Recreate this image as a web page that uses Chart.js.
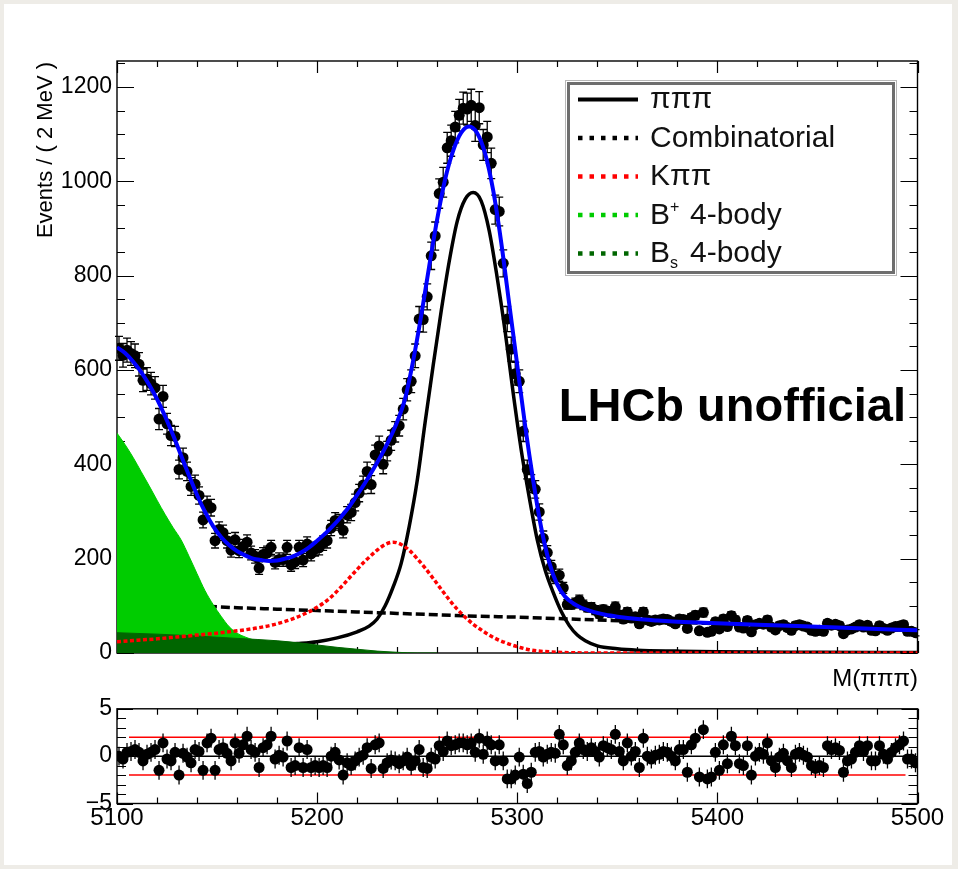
<!DOCTYPE html>
<html>
<head>
<meta charset="utf-8">
<script src="https://cdn.jsdelivr.net/npm/chart.js@4.4.1/dist/chart.umd.min.js"></script>
<style>
  body { margin: 0; width: 958px; height: 869px; overflow: hidden; background: #eeece7; }
  #paper { position: absolute; left: 4px; top: 4px; width: 948px; height: 861px; background: #fff; }
  canvas { position: absolute; left: 0; }
  #main { top: 0; }
  #pull { top: 690px; }
</style>
</head>
<body>
<div id="paper"></div>
<canvas id="main" width="958" height="700"></canvas>
<canvas id="pull" width="958" height="179"></canvas>
<script>
// 2 MeV bins, M(πππ) from 5100 to 5500
const binCentres = [
  5101,5103,5105,5107,5109,5111,5113,5115,5117,5119,
  5121,5123,5125,5127,5129,5131,5133,5135,5137,5139,
  5141,5143,5145,5147,5149,5151,5153,5155,5157,5159,
  5161,5163,5165,5167,5169,5171,5173,5175,5177,5179,
  5181,5183,5185,5187,5189,5191,5193,5195,5197,5199,
  5201,5203,5205,5207,5209,5211,5213,5215,5217,5219,
  5221,5223,5225,5227,5229,5231,5233,5235,5237,5239,
  5241,5243,5245,5247,5249,5251,5253,5255,5257,5259,
  5261,5263,5265,5267,5269,5271,5273,5275,5277,5279,
  5281,5283,5285,5287,5289,5291,5293,5295,5297,5299,
  5301,5303,5305,5307,5309,5311,5313,5315,5317,5319,
  5321,5323,5325,5327,5329,5331,5333,5335,5337,5339,
  5341,5343,5345,5347,5349,5351,5353,5355,5357,5359,
  5361,5363,5365,5367,5369,5371,5373,5375,5377,5379,
  5381,5383,5385,5387,5389,5391,5393,5395,5397,5399,
  5401,5403,5405,5407,5409,5411,5413,5415,5417,5419,
  5421,5423,5425,5427,5429,5431,5433,5435,5437,5439,
  5441,5443,5445,5447,5449,5451,5453,5455,5457,5459,
  5461,5463,5465,5467,5469,5471,5473,5475,5477,5479,
  5481,5483,5485,5487,5489,5491,5493,5495,5497,5499
];

const eventCounts = [
  646,631,642,635,630,612,578,581,571,562,
  496,544,486,461,459,389,414,385,353,358,
  334,282,315,308,238,262,255,238,218,240,
  217,226,235,212,205,180,209,212,224,192,
  198,198,224,187,193,224,197,231,210,220,
  223,233,238,265,281,277,260,293,298,319,
  339,356,385,357,420,439,400,428,451,469,
  482,517,558,576,630,708,707,755,842,884,
  974,998,1071,1086,1115,1140,1155,1153,1161,1118,
  1156,1077,1094,1038,940,936,826,708,644,592,
  576,470,389,359,347,299,243,213,183,160,
  165,138,103,103,106,112,102,97,97,91,
  83,92,89,85,98,81,72,87,74,77,
  62,87,70,67,70,70,72,71,67,62,
  72,71,52,75,80,47,86,44,46,66,
  51,72,56,79,70,55,53,69,45,60,
  63,61,70,55,49,58,60,54,48,58,
  60,57,55,48,46,48,46,63,59,61,
  58,41,49,51,55,60,55,59,48,47,
  58,52,48,53,56,57,60,46,46,43
];

const pullValues = [
  0.0,-0.3,0.4,0.5,0.7,0.4,-0.5,0.2,0.4,0.7,
  -1.5,1.4,-0.3,-0.5,0.4,-2.0,0.3,-0.1,-0.7,0.7,
  0.5,-1.5,1.4,1.9,-1.5,0.7,0.9,0.3,-0.5,1.4,
  0.3,1.2,2.1,0.7,0.4,-1.2,0.9,1.2,2.1,-0.3,
  0.1,-0.1,1.6,-1.2,-1.0,0.9,-1.2,0.7,-1.2,-1.0,
  -1.2,-1.0,-1.2,0.0,0.4,-0.4,-2.0,-0.7,-1.0,-0.5,
  -0.1,0.1,0.9,-1.3,1.2,1.4,-1.3,-0.7,-0.4,-0.5,
  -0.8,-0.5,-0.1,-1.0,-0.5,0.7,-1.2,-1.3,-0.1,-0.3,
  1.1,0.5,1.6,1.1,1.2,1.4,1.4,1.2,1.4,0.4,
  1.9,0.2,1.6,1.2,-0.5,1.2,-0.5,-2.4,-2.4,-2.0,
  -0.1,-1.9,-2.9,-1.7,0.4,0.5,-0.1,0.2,0.4,0.3,
  2.3,1.2,-1.0,-0.5,0.4,1.4,0.7,0.5,0.9,0.5,
  -0.1,1.1,0.9,0.7,2.3,0.5,-0.5,1.4,0.0,0.5,
  -1.2,1.9,0.0,-0.3,0.1,0.2,0.5,0.4,0.0,-0.5,
  0.7,0.7,-1.7,1.2,1.9,-2.2,2.8,-2.4,-2.2,0.4,
  -1.5,1.2,-0.8,2.1,1.1,-0.8,-1.0,1.1,-2.0,0.0,
  0.4,0.2,1.4,-0.5,-1.2,-0.1,0.3,-0.5,-1.2,0.2,
  0.4,0.1,-0.1,-1.0,-1.3,-1.0,-1.2,1.1,0.7,0.9,
  0.6,-1.7,-0.5,-0.3,0.4,1.1,0.5,1.1,-0.5,-0.5,
  1.1,0.2,-0.3,0.4,0.9,1.2,1.6,-0.3,-0.3,-0.7
];

// fit curves, sampled along M
const fitMass = [5100,5104,5108,5112,5116,5120,5124,5128,5132,5136,5140,5144,5148,5152,5156,5160,5164,5168,5172,5176,
  5180,5184,5188,5192,5196,5200,5204,5208,5212,5216,5220,5224,5228,5232,5236,5240,5244,5248,5252,5256,
  5260,5264,5268,5272,5276,5280,5284,5288,5292,5296,5300,5304,5308,5312,5316,5320,5324,5328,5332,5336,
  5340,5344,5350,5360,5370,5380,5390,5400,5420,5440,5460,5480,5500];
const fitTotal = [648,636,618,596,569,538,502,462,419,376,335,299,269,246,229,216,207,200,197,195,
  196,200,205,213,224,238,253,270,289,310,335,361,389,419,452,490,540,620,715,820,
  920,1005,1065,1103,1116,1102,1058,980,870,740,610,480,365,265,192,145,119,105,96,90,
  85,81,77,72,69,66.5,64.5,63,60,57,54,51,48];

const signalMass = [5100,5120,5140,5160,5180,5190,5200,5210,5220,5226,5230,5234,5238,5242,5246,5250,5254,5258,5262,5266,
  5270,5274,5278,5282,5286,5290,5294,5298,5302,5306,5310,5314,5318,5322,5326,5330,5334,5340,5350,5360,
  5380,5400,5450,5500];
const signalCurve = [5,7,10,13,17,20,24,32,45,57,72,100,140,190,268,365,490,610,725,830,
  915,962,976,958,895,795,680,550,430,330,240,175,128,88,58,38,26,15,9,6,
  4,2.5,1.5,1];

const combMass = [5100,5120,5140,5160,5180,5200,5220,5240,5260,5280,5300,5320,5340,5360,5380,5400,5420,5440,5460,5480,5500];
const combCurve = [108,104,100,96,93,90,87,84,81,78,76,73,70,67,65,62,59,56,53,50,48];

const kpipiMass = [5100,5110,5120,5130,5140,5150,5160,5170,5180,5190,5200,5206,5212,5218,5224,5230,5234,5238,5242,5246,
  5250,5254,5258,5262,5266,5270,5274,5278,5282,5286,5290,5294,5298,5302,5306,5310,5320,5330,5340,5420,5500];
const kpipiCurve = [24,27,30,34,38,42,47,53,62,76,97,115,140,168,195,218,230,235,230,218,
  200,180,158,135,113,93,76,61,49,38,29,22,16,11,7,4.5,1.5,0.3,0,0,0];

const bplusMass = [5100,5104,5108,5112,5116,5120,5124,5128,5132,5136,5140,5144,5148,5152,5156,5160,5164,5168,5172,5176,5180,5190,5200,5210];
const bplusCurve = [466,442,415,385,355,324,294,266,240,205,168,132,103,78,56,42,34,28,24,20,16,8,3,0];

const bsMass = [5100,5120,5140,5160,5180,5190,5200,5210,5220,5230,5240,5250,5260];
const bsCurve = [43,40,36,31,26,22,17,12,8,4,1.5,0,0];

const legendLabels = ['πππ', 'Combinatorial', 'Kππ', 'B+ 4-body', 'Bs 4-body'];

Chart.defaults.font.family = '"Liberation Sans", Arial, sans-serif';
Chart.defaults.color = '#000';

const FONT = '"Liberation Sans", Arial, sans-serif';
const toPoints = (xs, ys) => xs.map((x, i) => ({ x, y: ys[i] }));
const plainNumber = v => (v < 0 ? '\u2212' + Math.abs(v) : String(v));

function curve(xs, ys, extra) {
  return Object.assign({
    data: toPoints(xs, ys),
    pointRadius: 0,
    borderWidth: 3.5,
    cubicInterpolationMode: 'monotone',
    fill: false
  }, extra);
}

// frame with inward ticks on all four sides, drawn underneath the marks like ROOT does
function frameTicks(opt) {
  return {
    id: 'frameTicks',
    beforeDatasetsDraw(chart) {
      const { ctx, chartArea: a, scales: { x, y } } = chart;
      ctx.save();
      ctx.strokeStyle = '#000';
      ctx.lineWidth = 1.4;
      ctx.strokeRect(a.left, a.top, a.right - a.left, a.bottom - a.top);
      ctx.lineWidth = 1.2;
      ctx.beginPath();
      for (let v = x.min; v <= x.max + 1e-6; v += opt.xMinor) {
        const px = Math.round(x.getPixelForValue(v)) + 0.5;
        const len = Math.abs((v - x.min) % opt.xMajor) < 1e-6 ? opt.xMajorLen : opt.xMinorLen;
        ctx.moveTo(px, a.bottom); ctx.lineTo(px, a.bottom - len);
        ctx.moveTo(px, a.top); ctx.lineTo(px, a.top + len);
      }
      for (let v = y.min; v <= y.max + 1e-6; v += opt.yMinor) {
        const py = Math.round(y.getPixelForValue(v)) + 0.5;
        const len = Math.abs((v - opt.yBase) % opt.yMajor) < 1e-6 ? opt.yMajorLen : opt.yMinorLen;
        ctx.moveTo(a.left, py); ctx.lineTo(a.left + len, py);
        ctx.moveTo(a.right, py); ctx.lineTo(a.right - len, py);
      }
      ctx.stroke();
      ctx.restore();
    }
  };
}

const countErrors = {
  id: 'countErrors',
  beforeDatasetsDraw(chart) {
    const { ctx, scales: { x, y } } = chart;
    ctx.save();
    ctx.strokeStyle = '#000';
    ctx.lineWidth = 1.3;
    ctx.beginPath();
    binCentres.forEach((m, i) => {
      const n = eventCounts[i], e = Math.sqrt(n);
      const px = x.getPixelForValue(m);
      const yLo = y.getPixelForValue(n - e), yHi = y.getPixelForValue(n + e);
      ctx.moveTo(px, yLo); ctx.lineTo(px, yHi);
      ctx.moveTo(px - 4, yLo); ctx.lineTo(px + 4, yLo);
      ctx.moveTo(px - 4, yHi); ctx.lineTo(px + 4, yHi);
    });
    ctx.stroke();
    ctx.restore();
  }
};

const legendStyles = [
  { color: '#000000', dash: [], width: 4 },
  { color: '#000000', dash: [4.5, 7], width: 4.5 },
  { color: '#ff0000', dash: [4.5, 7], width: 4.5 },
  { color: '#00cc00', dash: [4.5, 7], width: 4.5 },
  { color: '#006600', dash: [4.5, 7], width: 4.5 }
];

const annotations = {
  id: 'annotations',
  afterDraw(chart) {
    const ctx = chart.ctx;
    ctx.save();
    ctx.fillStyle = '#000';

    // y axis title, reading upwards and ending at the frame top
    ctx.save();
    ctx.font = '22px ' + FONT;
    ctx.translate(52, 62);
    ctx.rotate(-Math.PI / 2);
    ctx.textAlign = 'right';
    ctx.fillText('Events / ( 2 MeV )', 0, 0);
    ctx.restore();

    ctx.font = '24px ' + FONT;
    ctx.textAlign = 'right';
    ctx.fillText('M(πππ)', 918, 686);

    ctx.font = 'bold 47px ' + FONT;
    ctx.fillText('LHCb unofficial', 906, 421);

    // legend box
    ctx.fillStyle = '#fff';
    ctx.fillRect(567, 82, 328, 192);
    ctx.strokeStyle = '#b8b8b8';
    ctx.lineWidth = 1;
    ctx.strokeRect(565.5, 80.5, 331, 195);
    ctx.strokeStyle = '#6e6e6e';
    ctx.lineWidth = 3;
    ctx.strokeRect(568.5, 83.5, 325, 189);

    const base = [108, 146.5, 185, 223.5, 262];
    legendLabels.forEach((label, i) => {
      const st = legendStyles[i];
      const ly = base[i] - 8.5;
      ctx.save();
      ctx.strokeStyle = st.color;
      ctx.lineWidth = st.width;
      ctx.setLineDash(st.dash);
      ctx.beginPath();
      ctx.moveTo(578, ly);
      ctx.lineTo(638, ly);
      ctx.stroke();
      ctx.restore();

      ctx.fillStyle = '#111';
      ctx.textAlign = 'left';
      ctx.font = '30px ' + FONT;
      if (label === 'B+ 4-body' || label === 'Bs 4-body') {
        const sup = label[1] === '+';
        ctx.fillText('B', 650, base[i]);
        ctx.font = '16px ' + FONT;
        ctx.fillText(label[1], 670, sup ? base[i] - 12 : base[i] + 6);
        ctx.font = '30px ' + FONT;
        ctx.fillText(label.slice(3), 690, base[i]);
      } else {
        ctx.fillText(label, 650, base[i]);
      }
    });
    ctx.restore();
  }
};

new Chart(document.getElementById('main'), {
  type: 'line',
  data: {
    datasets: [
      { label: 'data', data: toPoints(binCentres, eventCounts), showLine: false,
        pointRadius: 5.5, pointBackgroundColor: '#000', pointBorderWidth: 0, order: 10 },
      curve(combMass, combCurve, { label: 'Combinatorial', borderColor: '#000', borderDash: [9, 4], order: 9 }),
      curve(signalMass, signalCurve, { label: 'πππ', borderColor: '#000', order: 8 }),
      curve(bplusMass, bplusCurve, { label: 'B+ 4-body', borderColor: '#00cc00', borderWidth: 1,
        backgroundColor: '#00cc00', fill: 'origin', order: 7 }),
      curve(bsMass, bsCurve, { label: 'Bs 4-body', borderColor: '#006600', borderWidth: 1,
        backgroundColor: '#006600', fill: 'origin', order: 6 }),
      curve(kpipiMass, kpipiCurve, { label: 'Kππ', borderColor: '#ff0000', borderDash: [4, 2.5], order: 5 }),
      curve(fitMass, fitTotal, { label: 'total', borderColor: '#0000ff', borderWidth: 4, order: 4 })
    ]
  },
  options: {
    responsive: false,
    animation: false,
    devicePixelRatio: 1,
    events: [],
    layout: { padding: { top: 61, right: 40.5, left: 0, bottom: 0 } },
    plugins: { legend: { display: false }, tooltip: { enabled: false } },
    scales: {
      x: {
        type: 'linear', min: 5100, max: 5500,
        ticks: { display: false },
        grid: { display: false, drawTicks: false },
        border: { display: false },
        afterFit(s) { s.height = 47; }
      },
      y: {
        min: 0, max: 1255,
        ticks: { stepSize: 200, includeBounds: false, padding: 5, font: { size: 23 }, callback: plainNumber },
        grid: { display: false, drawTicks: false },
        border: { display: false },
        afterFit(s) { s.width = 117; }
      }
    }
  },
  plugins: [
    frameTicks({ xMinor: 20, xMajor: 100, xMajorLen: 12, xMinorLen: 6,
                 yMinor: 50, yMajor: 200, yBase: 0, yMajorLen: 17, yMinorLen: 8 }),
    countErrors,
    annotations]
});

const pullLines = {
  id: 'pullLines',
  beforeDatasetsDraw(chart) {
    const { ctx, scales: { x, y } } = chart;
    const x0 = x.getPixelForValue(5106), x1 = x.getPixelForValue(5494);
    ctx.save();
    ctx.lineWidth = 1.5;
    ctx.strokeStyle = '#ff0000';
    [2, -2].forEach(v => {
      const py = y.getPixelForValue(v);
      ctx.beginPath(); ctx.moveTo(x0, py); ctx.lineTo(x1, py); ctx.stroke();
    });
    ctx.strokeStyle = '#000';
    const pz = y.getPixelForValue(0);
    ctx.beginPath(); ctx.moveTo(x0, pz); ctx.lineTo(x1, pz); ctx.stroke();

    ctx.lineWidth = 1.3;
    ctx.beginPath();
    binCentres.forEach((m, i) => {
      const px = x.getPixelForValue(m);
      ctx.moveTo(px, y.getPixelForValue(pullValues[i] - 1));
      ctx.lineTo(px, y.getPixelForValue(pullValues[i] + 1));
    });
    ctx.stroke();
    ctx.restore();
  }
};

new Chart(document.getElementById('pull'), {
  type: 'line',
  data: {
    datasets: [
      { label: 'pull', data: toPoints(binCentres, pullValues), showLine: false,
        pointRadius: 5.5, pointBackgroundColor: '#000', pointBorderWidth: 0 }
    ]
  },
  options: {
    responsive: false,
    animation: false,
    devicePixelRatio: 1,
    events: [],
    layout: { padding: { top: 17, right: 40.5, left: 0, bottom: 0 } },
    plugins: { legend: { display: false }, tooltip: { enabled: false } },
    scales: {
      x: {
        type: 'linear', min: 5100, max: 5500,
        ticks: { stepSize: 100, padding: 0, maxRotation: 0, autoSkip: false, font: { size: 24 }, callback: plainNumber },
        grid: { display: false, drawTicks: false },
        border: { display: false },
        afterFit(s) { s.height = 65.5; }
      },
      y: {
        min: -5, max: 5,
        ticks: { stepSize: 5, padding: 5, font: { size: 23 }, callback: plainNumber },
        grid: { display: false, drawTicks: false },
        border: { display: false },
        afterFit(s) { s.width = 117; }
      }
    }
  },
  plugins: [
    frameTicks({ xMinor: 20, xMajor: 100, xMajorLen: 11, xMinorLen: 6,
                 yMinor: 1, yMajor: 5, yBase: -5, yMajorLen: 16, yMinorLen: 9 }),
    pullLines]
});
</script>
</body>
</html>
